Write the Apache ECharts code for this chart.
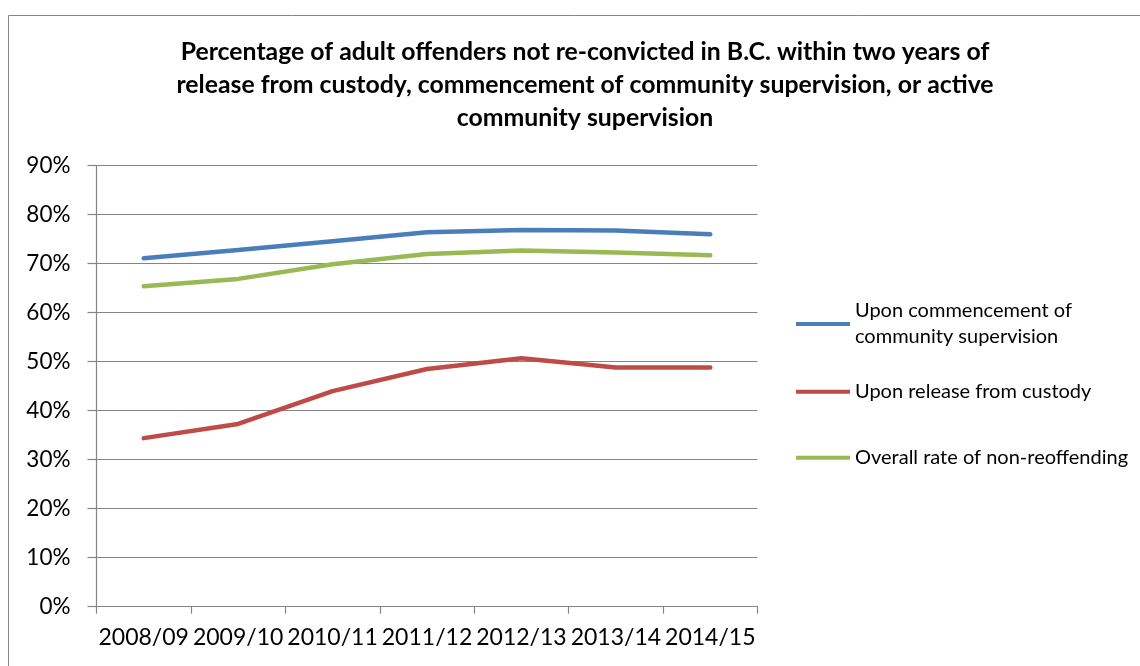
<!DOCTYPE html>
<html>
<head>
<meta charset="utf-8">
<script src="https://cdn.jsdelivr.net/npm/echarts@6/dist/echarts.min.js"></script>
<style>html,body{margin:0;padding:0;background:#fff}#c{width:1140px;height:666px}</style>
</head>
<body>
<div id="c"></div>
<script>
const categories = ['2008/09','2009/10','2010/11','2011/12','2012/13','2013/14','2014/15'];
const communitySupervision = [71.1, 72.8, 74.6, 76.4, 76.9, 76.8, 76.0];
const releaseFromCustody = [34.4, 37.3, 44.0, 48.5, 50.7, 48.8, 48.8];
const overallRate = [65.4, 66.9, 69.9, 72.0, 72.7, 72.3, 71.7];
const seriesNames = ['Upon commencement of community supervision', 'Upon release from custody', 'Overall rate of non-reoffending'];
const titleText = 'Percentage of adult offenders not re-convicted in B.C. within two years of\nrelease from custody, commencement of community supervision, or active\ncommunity supervision';

const FONT = 'Lato';
const gray = '#858585';
const chart = echarts.init(document.getElementById('c'));
const legendBase = {
  orient: 'vertical', left: 796, padding: 0, itemWidth: 54, itemHeight: 4,
  icon: 'rect',
  textStyle: {fontFamily: FONT, fontSize: 20, color: '#000', lineHeight: 26}
};
chart.setOption({
  animation: false,
  title: {
    text: titleText, left: 580, top: 31, textAlign: 'center',
    textStyle: {fontFamily: FONT, fontWeight: 'bold', fontSize: 24.8, lineHeight: 33, color: '#000'}
  },
  graphic: [{
    type: 'rect', shape: {x: 8.5, y: 15.5, width: 1200, height: 700},
    style: {fill: 'none', stroke: gray, lineWidth: 1}, silent: true
  }],
  legend: [
    Object.assign({}, legendBase, {top: 285, data: [seriesNames[0]],
      formatter: () => 'Upon commencement of\ncommunity supervision',
      textStyle: Object.assign({}, legendBase.textStyle, {padding: [26, 0, 0, 0]})}),
    Object.assign({}, legendBase, {top: 378.7, data: [seriesNames[1]]}),
    Object.assign({}, legendBase, {top: 444.7, data: [seriesNames[2]]})
  ],
  grid: {left: 96.5, right: 382.5, top: 165.7, bottom: 59.3, containLabel: false},
  xAxis: {
    type: 'category', data: categories, boundaryGap: true,
    axisLine: {show: true, lineStyle: {color: gray, width: 1.2}},
    axisTick: {show: true, length: 7, interval: 0, lineStyle: {color: gray, width: 1.2}},
    axisLabel: {interval: 0, fontFamily: FONT, fontSize: 23, color: '#000', margin: 19}
  },
  yAxis: {
    type: 'value', min: 0, max: 90, interval: 10,
    axisLine: {show: true, lineStyle: {color: gray, width: 1.2}},
    axisTick: {show: true, length: 9, lineStyle: {color: gray, width: 1.2}},
    splitLine: {show: true, lineStyle: {color: gray, width: 1.2}},
    axisLabel: {formatter: '{value}%', fontFamily: FONT, fontSize: 22.5, color: '#000', margin: 26}
  },
  series: [
    {name: seriesNames[0], type: 'line', data: communitySupervision, symbol: 'none',
      lineStyle: {color: '#4A7EBB', width: 4.5, cap: 'round', join: 'round'}, itemStyle: {color: '#4A7EBB'}},
    {name: seriesNames[1], type: 'line', data: releaseFromCustody, symbol: 'none',
      lineStyle: {color: '#BE4B48', width: 4.5, cap: 'round', join: 'round'}, itemStyle: {color: '#BE4B48'}},
    {name: seriesNames[2], type: 'line', data: overallRate, symbol: 'none',
      lineStyle: {color: '#98B954', width: 4.5, cap: 'round', join: 'round'}, itemStyle: {color: '#98B954'}}
  ]
});
</script>
</body>
</html>
